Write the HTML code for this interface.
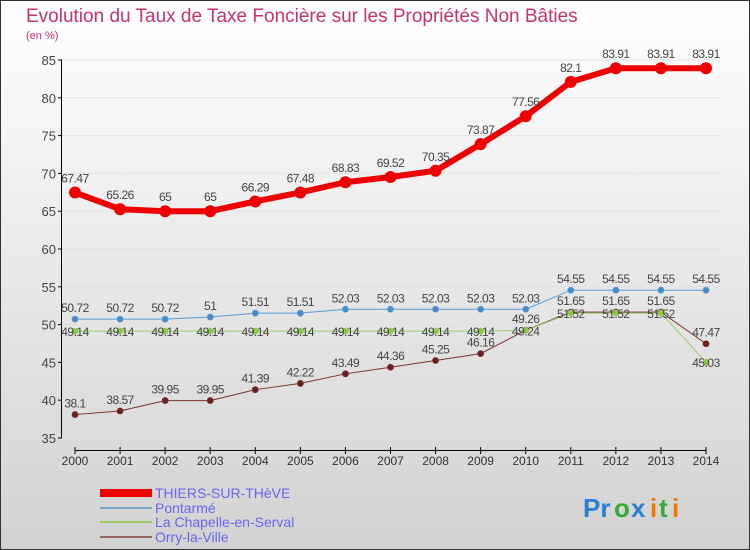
<!DOCTYPE html>
<html><head><meta charset="utf-8"><style>
body{margin:0}
#c{width:750px;height:550px;position:relative;overflow:hidden;font-family:"Liberation Sans",sans-serif}
</style></head><body>
<div id="c">
<svg width="750" height="550" xmlns="http://www.w3.org/2000/svg" id="svg">
<defs><linearGradient id="bg" x1="0" y1="0" x2="0" y2="1"><stop offset="0" stop-color="#ffffff"/><stop offset="1" stop-color="#d2d2d2"/></linearGradient></defs>
<rect x="0.5" y="0.5" width="749" height="549" fill="url(#bg)" stroke="#333"/>
<text x="26" y="22" font-size="19" fill="#c8336a">Evolution du Taux de Taxe Foncière sur les Propriétés Non Bâties</text>
<text x="26" y="39" font-size="11" fill="#c8336a">(en %)</text>
<g id="grid"></g><g id="axes"></g><g id="series"></g><g id="labels"></g>
<g>
<rect x="100" y="489" width="52" height="8" fill="#e00"/>
<text x="155" y="498" font-size="14" fill="#6666ee">THIERS-SUR-THèVE</text>
<rect x="100" y="507" width="52" height="2" fill="#7aa8cc"/>
<text x="155" y="513" font-size="14" fill="#6666ee">Pontarmé</text>
<rect x="100" y="521" width="52" height="2" fill="#99cc66"/>
<text x="155" y="527" font-size="14" fill="#6666ee">La Chapelle-en-Serval</text>
<rect x="100" y="536" width="52" height="2" fill="#996666"/>
<text x="155" y="542" font-size="14" fill="#6666ee">Orry-la-Ville</text>
</g>
<g font-size="26" font-weight="bold">
<text x="583" y="517" fill="#2a7fd0">Pr</text><text x="614" y="517" fill="#3aa83a">o</text><text x="631" y="517" fill="#2a7fd0">x</text><text x="650" y="517" fill="#f07800">i</text><text x="659" y="517" fill="#3aa83a">t</text><text x="672" y="517" fill="#f07800">i</text>
</g>
</svg>
</div>
<script>
const years=[2000,2001,2002,2003,2004,2005,2006,2007,2008,2009,2010,2011,2012,2013,2014];
const thiers=[67.47,65.26,65,65,66.29,67.48,68.83,69.52,70.35,73.87,77.56,82.1,83.91,83.91,83.91];
const pontarme=[50.72,50.72,50.72,51,51.51,51.51,52.03,52.03,52.03,52.03,52.03,54.55,54.55,54.55,54.55];
const chapelle=[49.14,49.14,49.14,49.14,49.14,49.14,49.14,49.14,49.14,49.14,49.24,51.52,51.52,51.52,45.03];
const orry=[38.1,38.57,39.95,39.95,41.39,42.22,43.49,44.36,45.25,46.16,49.26,51.65,51.65,51.65,47.47];
const yTicks=[35,40,45,50,55,60,65,70,75,80,85];
const NS="http://www.w3.org/2000/svg";
function X(i){return 75+i*(706-75)/(years.length-1);}
function Y(v){return 438-(v-35)*(438-60)/50;}
function mk(t,a,p){const e=document.createElementNS(NS,t);for(const k in a)e.setAttribute(k,a[k]);p.appendChild(e);return e;}
const grid=document.getElementById('grid'),axes=document.getElementById('axes'),ser=document.getElementById('series'),lab=document.getElementById('labels');
yTicks.forEach(v=>{
 const l=mk('line',{x1:62,x2:720,y1:Y(v),y2:Y(v),stroke:'#e2e2e2','stroke-width':1},grid);
 
 
 mk('line',{x1:58,x2:62,y1:Y(v),y2:Y(v),stroke:'#000'},axes);
 const t=mk('text',{x:56,y:Y(v)+5,'font-size':13,'text-anchor':'end',fill:'#444'},axes);t.textContent=v;
 
 
});
const ya=mk('line',{x1:61.5,x2:61.5,y1:Y(85),y2:Y(35),stroke:'#000'},axes);


const xa=mk('line',{x1:75,x2:706,y1:450.5,y2:450.5,stroke:'#000'},axes);


years.forEach((y,i)=>{
 mk('line',{x1:X(i),x2:X(i),y1:447,y2:454,stroke:'#000'},axes);
 const t=mk('text',{x:X(i),y:465,'font-size':12,'text-anchor':'middle',fill:'#333'},axes);t.textContent=y;
 
 
});
function series(name,data,color,w,r,dot,labDy){
 const g=mk('g',{},ser);
 
 
 mk('polyline',{points:data.map((v,i)=>X(i)+','+Y(v)).join(' '),fill:'none',stroke:color,'stroke-width':w,'stroke-linejoin':'round'},g);
 data.forEach((v,i)=>{
  const c=mk('circle',{cx:X(i),cy:Y(v),r:r,fill:dot,stroke:color,'stroke-width':w>3?0:0.8},g);
  
  
  const t=mk('text',{x:X(i),y:Y(v)+labDy,'font-size':12,'text-anchor':'middle',fill:'#444','letter-spacing':'-0.5'},lab);t.textContent=v;
  
  
 });
}
series('orry',orry,'#7a3030',1,3,'#662222',-7);
series('chapelle',chapelle,'#99cc66',1,3,'#88cc44',5);
series('pontarme',pontarme,'#5b9bd5',1,3,'#4a8ac4',-7);
series('thiers',thiers,'#ee0000',6,6,'#ee0000',-10);
</script>
</body></html>
